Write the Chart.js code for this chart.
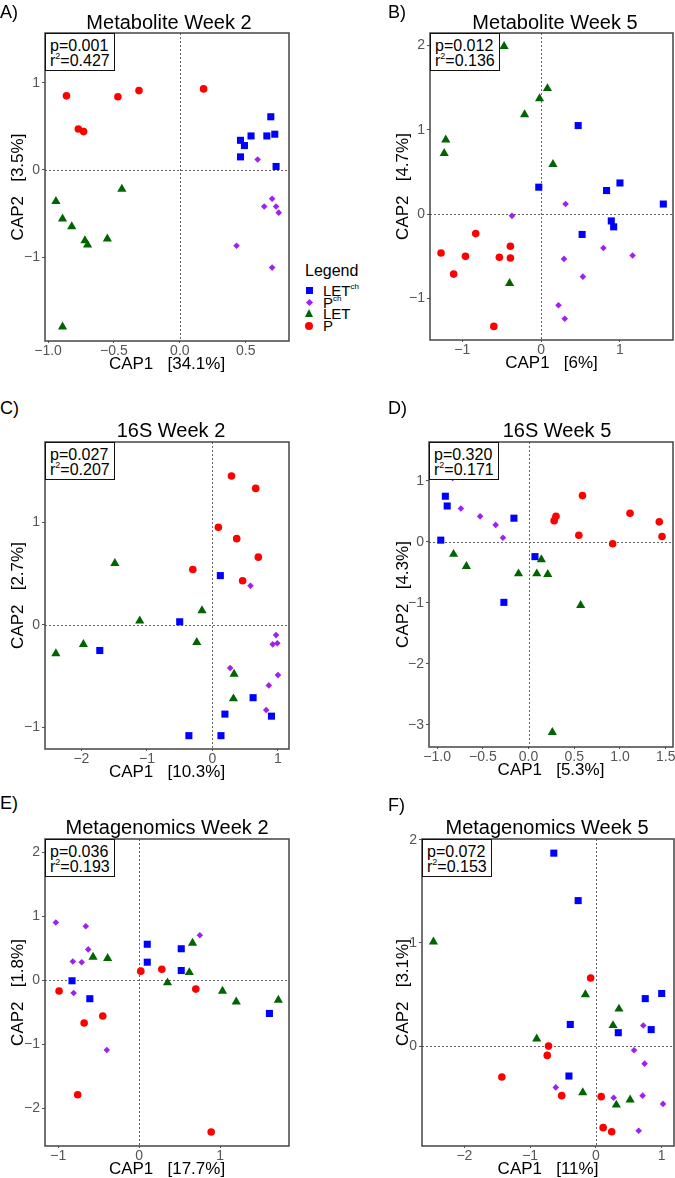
<!DOCTYPE html>
<html>
<head>
<meta charset="utf-8">
<script src="https://cdn.jsdelivr.net/npm/chart.js@4.4.1/dist/chart.umd.min.js"></script>
<style>
html, body { margin: 0; padding: 0; background: #fff; overflow: hidden; }
body { font-family: "Liberation Sans", Arial, sans-serif; }
#fig { position: relative; width: 675px; height: 1178px; overflow: hidden; }
#fig canvas { position: absolute; }
.letter { position: absolute; font-size: 18px; line-height: 18px; color: #000; }
.title { position: absolute; font-size: 20px; line-height: 20px; color: #000; white-space: nowrap; transform: translate(-50%, -50%); }
.pbox { position: absolute; box-sizing: border-box; width: 70px; height: 38px; border: 1.5px solid #111;
        background: #fff; font-size: 16px; line-height: 15px; padding: 4px 0 0 4px; color: #000; white-space: nowrap; }
.pbox sup { font-size: 9px; line-height: 0; position: relative; top: -1px; }
#legend { position: absolute; left: 305px; top: 262px; font-size: 15px; color: #000; }
#legend .head { font-size: 16px; line-height: 18px; margin-bottom: 5px; }
#legend .item { position: relative; height: 11.7px; line-height: 11.7px; padding-left: 18px; white-space: nowrap; }
#legend .item sup { font-size: 8px; line-height: 0; position: relative; top: -1px; }
#legend .mk { position: absolute; left: 1px; top: 2px; }
</style>
</head>
<body>
<div id="fig"></div>
<script>
// groups and their order in every panel
const groups = ['LETch', 'Pch', 'LET', 'P'];

// Metabolite week 2 [CAP1, CAP2]
const metW2_LETch = [[0.69, 0.61], [0.46, 0.34], [0.49, 0.28], [0.54, 0.39], [0.66, 0.39], [0.72, 0.41], [0.46, 0.15], [0.73, 0.04]];
const metW2_Pch = [[0.59, 0.12], [0.70, -0.33], [0.64, -0.42], [0.73, -0.42], [0.75, -0.49], [0.43, -0.87], [0.70, -1.12]];
const metW2_LET = [[-0.94, -0.36], [-0.89, -0.56], [-0.82, -0.65], [-0.72, -0.81], [-0.70, -0.86], [-0.55, -0.79], [-0.44, -0.22], [-0.89, -1.80]];
const metW2_P = [[-0.86, 0.85], [-0.77, 0.47], [-0.73, 0.44], [-0.47, 0.84], [-0.31, 0.91], [0.18, 0.93]];

// Metabolite week 5
const metW5_LETch = [[0.47, 1.05], [-0.03, 0.32], [0.83, 0.28], [1.00, 0.37], [1.55, 0.12], [0.89, -0.08], [0.92, -0.15], [0.52, -0.24]];
const metW5_Pch = [[0.31, 0.12], [-0.37, -0.02], [0.79, -0.40], [1.16, -0.49], [0.29, -0.53], [0.53, -0.74], [0.22, -1.08], [0.30, -1.24]];
const metW5_LET = [[-0.47, 1.99], [0.08, 1.49], [-0.02, 1.37], [-0.21, 1.18], [-1.21, 0.88], [-1.23, 0.72], [0.15, 0.59], [-0.40, -0.82]];
const metW5_P = [[-1.27, -0.46], [-0.83, -0.23], [-0.96, -0.50], [-1.11, -0.71], [-0.53, -0.51], [-0.39, -0.38], [-0.39, -0.52], [-0.60, -1.33]];

// 16S week 2
const s16W2_LETch = [[0.12, 0.48], [-0.50, 0.03], [-1.72, -0.25], [0.62, -0.71], [0.19, -0.87], [0.90, -0.89], [-0.36, -1.08], [0.13, -1.08]];
const s16W2_Pch = [[0.58, 0.38], [0.97, -0.10], [0.92, -0.19], [0.99, -0.18], [0.27, -0.42], [1.00, -0.49], [0.86, -0.59], [0.82, -0.83]];
const s16W2_LET = [[-1.49, 0.60], [-1.11, 0.04], [-0.16, 0.14], [-1.97, -0.19], [-2.39, -0.28], [-0.24, -0.17], [0.33, -0.48], [0.32, -0.72]];
const s16W2_P = [[0.29, 1.45], [0.66, 1.33], [0.09, 0.95], [0.37, 0.84], [0.70, 0.66], [-0.30, 0.54], [0.46, 0.43]];

// 16S week 5
const s16W5_LETch = [[-0.91, 0.75], [-0.89, 0.59], [-0.96, 0.03], [-0.16, 0.39], [0.07, -0.24], [-0.27, -0.99]];
const s16W5_Pch = [[-0.83, 1.05], [-0.74, 0.55], [-0.53, 0.42], [-0.36, 0.28], [-0.28, 0.07]];
const s16W5_LET = [[-0.82, -0.20], [-0.68, -0.40], [-0.11, -0.52], [0.14, -0.29], [0.09, -0.52], [0.21, -0.53], [0.57, -1.04], [0.26, -3.12]];
const s16W5_P = [[0.59, 0.76], [0.30, 0.42], [0.28, 0.35], [0.55, 0.11], [0.92, -0.03], [1.11, 0.47], [1.43, 0.33], [1.46, 0.09]];

// Metagenomics week 2
const mgW2_LETch = [[0.10, 0.56], [0.10, 0.28], [0.52, 0.49], [0.52, 0.15], [-0.83, -0.01], [-0.61, -0.29], [1.61, -0.52]];
const mgW2_Pch = [[-1.03, 0.90], [-0.66, 0.84], [-0.63, 0.48], [-0.82, 0.29], [-0.71, 0.28], [-0.81, -0.20], [-0.40, -1.09], [0.75, 0.70]];
const mgW2_LET = [[-0.57, 0.36], [-0.39, 0.34], [0.66, 0.58], [0.62, 0.12], [0.35, -0.04], [1.03, -0.17], [1.20, -0.34], [1.72, -0.31]];
const mgW2_P = [[-0.99, -0.17], [0.02, 0.14], [0.28, 0.17], [0.70, -0.14], [-0.45, -0.56], [-0.68, -0.67], [-0.76, -1.79], [0.89, -2.37]];

// Metagenomics week 5
const mgW5_LETch = [[-0.64, 1.87], [-0.27, 1.41], [-0.39, 0.21], [0.34, 0.13], [0.75, 0.46], [1.00, 0.51], [0.84, 0.16], [-0.41, -0.29]];
const mgW5_Pch = [[0.72, 0.20], [0.58, -0.04], [0.74, -0.17], [-0.61, -0.40], [0.27, -0.50], [0.71, -0.48], [1.02, -0.56], [0.65, -0.82]];
const mgW5_LET = [[-2.47, 1.01], [-0.16, 0.50], [0.35, 0.36], [0.26, 0.20], [-0.90, 0.07], [-0.20, -0.45], [0.52, -0.52], [0.31, -0.57]];
const mgW5_P = [[-0.08, 0.66], [-0.72, 0.00], [-0.74, -0.09], [-1.43, -0.30], [-0.52, -0.48], [0.08, -0.49], [0.11, -0.79], [0.24, -0.83]];

// tick labels
const metW2_xTicks = [-1.0, -0.5, 0.0, 0.5];
const metW2_yTicks = [-1, 0, 1];
const metW5_xTicks = [-1, 0, 1];
const metW5_yTicks = [-1, 0, 1, 2];
const s16W2_xTicks = [-2, -1, 0, 1];
const s16W2_yTicks = [-1, 0, 1];
const s16W5_xTicks = [-1.0, -0.5, 0.0, 0.5, 1.0, 1.5];
const s16W5_yTicks = [-3, -2, -1, 0, 1];
const mgW2_xTicks = [-1, 0, 1];
const mgW2_yTicks = [-2, -1, 0, 1, 2];
const mgW5_xTicks = [-2, -1, 0, 1];
const mgW5_yTicks = [0, 1, 2];

// marker styles per group
const colors = ['#0000ff', '#a020f0', '#006400', '#ff0000'];
const shapes = ['rect', 'rectRot', 'triangle', 'circle'];
const radii = [5, 3.3, 5.3, 3.8];

const FONT = '"Liberation Sans", Arial, sans-serif';

const panels = [
  { letter: 'A)', title: 'Metabolite Week 2', series: [metW2_LETch, metW2_Pch, metW2_LET, metW2_P],
    xTicks: metW2_xTicks, yTicks: metW2_yTicks, xDec: 1, yDec: 0,
    xRange: [-1.023, 0.828], yRange: [-1.962, 1.571],
    xTitle: 'CAP1   [34.1%]', yTitle: 'CAP2   [3.5%]', p: '0.001', r2: '0.427',
    box: [45, 33, 289, 341], cl: 0, letterPos: [0, 3], titlePos: [169, 22] },
  { letter: 'B)', title: 'Metabolite Week 5', series: [metW5_LETch, metW5_Pch, metW5_LET, metW5_P],
    xTicks: metW5_xTicks, yTicks: metW5_yTicks, xDec: 0, yDec: 0,
    xRange: [-1.41, 1.673], yRange: [-1.491, 2.147],
    xTitle: 'CAP1   [6%]', yTitle: 'CAP2   [4.7%]', p: '0.012', r2: '0.136',
    box: [430, 33, 673, 340], cl: 385, letterPos: [388, 3], titlePos: [555, 22] },
  { letter: 'C)', title: '16S Week 2', series: [s16W2_LETch, s16W2_Pch, s16W2_LET, s16W2_P],
    xTicks: s16W2_xTicks, yTicks: s16W2_yTicks, xDec: 0, yDec: 0,
    xRange: [-2.556, 1.168], yRange: [-1.21, 1.782],
    xTitle: 'CAP1   [10.3%]', yTitle: 'CAP2   [2.7%]', p: '0.027', r2: '0.207',
    box: [45, 442, 289, 749], cl: 0, letterPos: [0, 399], titlePos: [171, 430] },
  { letter: 'D)', title: '16S Week 5', series: [s16W5_LETch, s16W5_Pch, s16W5_LET, s16W5_P],
    xTicks: s16W5_xTicks, yTicks: s16W5_yTicks, xDec: 1, yDec: 0,
    xRange: [-1.089, 1.58], yRange: [-3.361, 1.639],
    xTitle: 'CAP1   [5.3%]', yTitle: 'CAP2   [4.3%]', p: '0.320', r2: '0.171',
    box: [429, 442, 673, 747], cl: 385, letterPos: [388, 399], titlePos: [557, 430] },
  { letter: 'E)', title: 'Metagenomics Week 2', series: [mgW2_LETch, mgW2_Pch, mgW2_LET, mgW2_P],
    xTicks: mgW2_xTicks, yTicks: mgW2_yTicks, xDec: 0, yDec: 0,
    xRange: [-1.164, 1.852], yRange: [-2.589, 2.203],
    xTitle: 'CAP1   [17.7%]', yTitle: 'CAP2   [1.8%]', p: '0.036', r2: '0.193',
    box: [45, 839, 289, 1146], cl: 0, letterPos: [0, 794], titlePos: [167, 827] },
  { letter: 'F)', title: 'Metagenomics Week 5', series: [mgW5_LETch, mgW5_Pch, mgW5_LET, mgW5_P],
    xTicks: mgW5_xTicks, yTicks: mgW5_yTicks, xDec: 0, yDec: 0,
    xRange: [-2.644, 1.187], yRange: [-0.968, 2.007],
    xTitle: 'CAP1   [11%]', yTitle: 'CAP2   [3.1%]', p: '0.072', r2: '0.153',
    box: [422, 839, 674, 1146], cl: 385, letterPos: [388, 796], titlePos: [547, 827] }
];

// frame around the plot and dotted zero lines
const framePlugin = {
  id: 'frame',
  beforeDatasetsDraw(chart) {
    const { ctx, chartArea: a, scales: { x, y } } = chart;
    const x0 = Math.round(x.getPixelForValue(0)) + 0.5;
    const y0 = Math.round(y.getPixelForValue(0)) + 0.5;
    ctx.save();
    ctx.strokeStyle = '#666';
    ctx.lineWidth = 1;
    ctx.setLineDash([2, 2]);
    ctx.beginPath();
    ctx.moveTo(x0, a.top); ctx.lineTo(x0, a.bottom);
    ctx.moveTo(a.left, y0); ctx.lineTo(a.right, y0);
    ctx.stroke();
    ctx.restore();
  },
  afterDraw(chart) {
    const { ctx, chartArea: a } = chart;
    ctx.save();
    ctx.strokeStyle = '#444';
    ctx.lineWidth = 1.5;
    ctx.strokeRect(a.left, a.top, a.right - a.left, a.bottom - a.top);
    ctx.restore();
  }
};

function fmt(v, d) {
  return v.toFixed(d).replace('-', '\u2212');
}

const fig = document.getElementById('fig');
const PAD_T = 12, PAD_R = 14, X_H = 34;

panels.forEach(function(p) {
  const [L, T, R, B] = p.box;
  const cv = document.createElement('canvas');
  const w = R + PAD_R - p.cl;
  const h = B + X_H - (T - PAD_T);
  cv.width = w; cv.height = h;
  cv.style.left = p.cl + 'px';
  cv.style.top = (T - PAD_T) + 'px';
  cv.style.width = w + 'px';
  cv.style.height = h + 'px';
  fig.appendChild(cv);

  new Chart(cv, {
    type: 'scatter',
    data: {
      datasets: p.series.map(function(pts, i) {
        return {
          label: groups[i],
          data: pts.map(function(d) { return { x: d[0], y: d[1] }; }),
          pointStyle: shapes[i],
          pointRadius: radii[i],
          pointHoverRadius: radii[i],
          backgroundColor: colors[i],
          borderColor: colors[i],
          borderWidth: 0
        };
      })
    },
    options: {
      responsive: false,
      animation: false,
      devicePixelRatio: 1,
      layout: { padding: { top: PAD_T, right: PAD_R, left: 0, bottom: 0 } },
      plugins: { legend: { display: false }, tooltip: { enabled: false } },
      scales: {
        x: {
          type: 'linear', min: p.xRange[0], max: p.xRange[1],
          afterBuildTicks: function(s) { s.ticks = p.xTicks.map(function(v) { return { value: v }; }); },
          afterFit: function(s) { s.height = X_H; },
          grid: { drawOnChartArea: false, drawTicks: true, tickLength: 2, color: '#555' },
          border: { display: false },
          ticks: { color: '#555', font: { size: 14, family: FONT }, padding: 0, maxRotation: 0, autoSkip: false,
                   callback: function(v) { return fmt(v, p.xDec); } },
          title: { display: true, text: p.xTitle, color: '#000', font: { size: 17, family: FONT }, padding: { top: 0, bottom: 0 } }
        },
        y: {
          type: 'linear', min: p.yRange[0], max: p.yRange[1],
          afterBuildTicks: function(s) { s.ticks = p.yTicks.map(function(v) { return { value: v }; }); },
          afterFit: function(s) { s.width = L - p.cl; },
          grid: { drawOnChartArea: false, drawTicks: true, tickLength: 3, color: '#555' },
          border: { display: false },
          ticks: { color: '#555', font: { size: 14, family: FONT }, padding: 2, autoSkip: false,
                   callback: function(v) { return fmt(v, p.yDec); } },
          title: { display: true, text: p.yTitle, color: '#000', font: { size: 17, family: FONT }, padding: { top: 7.8, bottom: 0 } }
        }
      }
    },
    plugins: [framePlugin]
  });

  const let_ = document.createElement('div');
  let_.className = 'letter';
  let_.textContent = p.letter;
  let_.style.left = p.letterPos[0] + 'px';
  let_.style.top = p.letterPos[1] + 'px';
  fig.appendChild(let_);

  const ttl = document.createElement('div');
  ttl.className = 'title';
  ttl.textContent = p.title;
  ttl.style.left = p.titlePos[0] + 'px';
  ttl.style.top = p.titlePos[1] + 'px';
  fig.appendChild(ttl);

  const pb = document.createElement('div');
  pb.className = 'pbox';
  pb.innerHTML = 'p=' + p.p + '<br>r<sup>2</sup>=' + p.r2;
  pb.style.left = L + 'px';
  pb.style.top = T + 'px';
  fig.appendChild(pb);
});

// legend between panels A and B
const legendItems = [
  { html: 'LET<sup>ch</sup>', mk: 'width:7px;height:7px;background:' + colors[0] + ';' },
  { html: 'P<sup>ch</sup>', mk: 'width:5px;height:5px;background:' + colors[1] + ';transform:rotate(45deg);left:2px;top:3px;' },
  { html: 'LET', mk: 'width:0;height:0;border-left:4.5px solid transparent;border-right:4.5px solid transparent;border-bottom:8px solid ' + colors[2] + ';left:0;top:1px;' },
  { html: 'P', mk: 'width:8px;height:8px;border-radius:50%;background:' + colors[3] + ';left:0;top:2px;' }
];
const lg = document.createElement('div');
lg.id = 'legend';
let lhtml = '<div class="head">Legend</div>';
legendItems.forEach(function(it) {
  lhtml += '<div class="item"><span class="mk" style="' + it.mk + '"></span>' + it.html + '</div>';
});
lg.innerHTML = lhtml;
fig.appendChild(lg);
</script>
</body>
</html>
